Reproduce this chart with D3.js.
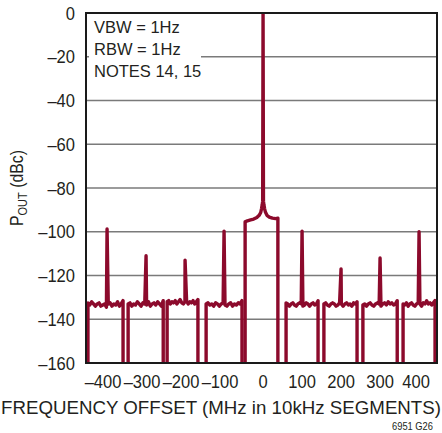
<!DOCTYPE html>
<html>
<head>
<meta charset="utf-8">
<script src="https://cdn.jsdelivr.net/npm/d3@7"></script>
<style>
  html, body { margin: 0; padding: 0; background: #fff; }
  svg { display: block; }
  text { font-family: "Liberation Sans", Arial, sans-serif; fill: #231f20; }
</style>
</head>
<body>
<svg id="chart" width="442" height="433"></svg>
<script>
// ---------------- data ----------------
const segmentCenters = [-400, -300, -200, -100, 0, 100, 200, 300, 400];
const segmentStarts  = [-449, -346, -246, -146, -46, 59, 156, 256, 359];
const segmentEnds    = [-359, -256, -167, -54, 38, 141, 241, 344, 441];
const spikeLevels    = [-98.7, -111, -113, -99.7, 0, -99.7, -117, -112, -100];

// noise floor readings across each side segment (dBc)
const noiseReadings = [
  [-132.5, -133.5, -132, -133, -134, -133, -132.5, -134, -133.5, -133, -134.5, -133, -132.5, -134, -133, -133.5, -132, -134, -133, -131.5],
  [-133, -132.5, -134, -133, -133.5, -132, -133, -134, -132.5, -133, -133.5, -132, -134, -133, -132.5, -133.5, -132, -133, -134, -131.5],
  [-132, -131.5, -133, -132, -132.5, -131.5, -133, -132, -131, -132.5, -133, -132, -131.5, -133, -132, -132.5, -131.5, -133, -132, -131],
  [-133, -132.5, -133.5, -133, -134, -132.5, -133, -134, -133, -132.5, -133.5, -134, -133, -132.5, -134, -133, -133.5, -132.5, -133, -131.5],
  null,
  [-132.5, -133, -134, -133, -132.5, -133.5, -134, -133, -132.5, -133, -134, -133.5, -132.5, -133, -134, -133, -132.5, -133.5, -133, -131.5],
  [-133, -132.5, -133.5, -134, -133, -132.5, -133, -134, -133.5, -132.5, -133, -134, -133, -132.5, -133.5, -133, -134, -132.5, -133, -132],
  [-133.5, -133, -134, -133, -132.5, -133.5, -134, -133, -132.5, -133, -134, -133, -132.5, -133.5, -132, -133, -132.5, -133.5, -133, -131.5],
  [-133, -133.5, -132.5, -134, -133, -132.5, -133.5, -134, -133, -132.5, -133, -134, -132.5, -133, -131.5, -133, -132.5, -133.5, -132.5, -131.5]
];

// carrier segment: offsets (MHz) and levels (dBc)
const carrierOffsets = [-45, -40, -32, -24, -16, -10, -6, -4, -2, -1, 0, 1, 2, 4, 6, 10, 16, 24, 32, 37];
const carrierLevels  = [-95.5, -95, -94.6, -94.2, -93.5, -92.5, -91.2, -89.5, -87.5, -86, 0, -86, -87.5, -89.5, -91, -92.5, -93.3, -93.8, -94, -93.8];

const yTicks = [0, -20, -40, -60, -80, -100, -120, -140, -160];
const xTicks = [-400, -300, -200, -100, 0, 100, 200, 300, 400];
const legendLines = ["VBW = 1Hz", "RBW = 1Hz", "NOTES 14, 15"];
const xTitle = "FREQUENCY OFFSET (MHz in 10kHz SEGMENTS)";
const footnote = "6951 G26";

// ---------------- layout ----------------
const svg = d3.select("#chart");
const L = 86, R = 437, T = 13, B = 363;
const x = d3.scaleLinear().domain([-454, 446]).range([L, R]);
const y = d3.scaleLinear().domain([-160, 0]).range([B, T]);
const traceColor = "#8c0a2c";
const fmt = v => v < 0 ? "\u2013" + Math.abs(v) : String(v);
const narrow = (sel, fx, fy, sx) => sel.attr("transform", (d, i) => `translate(${fx(d, i)},${fy(d, i)}) scale(${sx},1)`);

// gridlines
svg.append("g").selectAll("line").data(yTicks.filter(v => v !== 0 && v !== -160)).join("line")
  .attr("x1", L).attr("x2", R)
  .attr("y1", d => y(d)).attr("y2", d => y(d))
  .attr("stroke", "#7a7a7a").attr("stroke-width", 1.5);

// legend background
svg.append("rect").attr("x", 89).attr("y", 15).attr("width", 112).attr("height", 72).attr("fill", "#fff");
svg.append("g").selectAll("text").data(legendLines).join("text")
  .call(narrow, () => 94, (d, i) => 33 + i * 22, 1.0)
  .attr("font-size", 16.5)
  .text(d => d);

// traces
svg.append("clipPath").attr("id", "clip").append("rect")
  .attr("x", L).attr("y", T).attr("width", R - L).attr("height", B - T);
const line = d3.line().x(d => x(d[0])).y(d => y(d[1]));
const segments = segmentCenters.map((c, i) => {
  const s = segmentStarts[i], e = segmentEnds[i];
  let pts = [];
  if (noiseReadings[i]) {
    const n = noiseReadings[i];
    n.forEach((v, k) => pts.push([s + (e - s) * k / (n.length - 1), v]));
    pts.push([c, spikeLevels[i]]);
    pts.sort((a, b) => a[0] - b[0]);
  } else {
    carrierOffsets.forEach((o, k) => pts.push([c + o, carrierLevels[k]]));
    pts[pts.length - 1][0] = e;
    pts[0][0] = s;
  }
  return [[s, -161]].concat(pts, [[e, -161]]);
});
svg.append("g").attr("clip-path", "url(#clip)").selectAll("path").data(segments).join("path")
  .attr("d", line)
  .attr("fill", "none")
  .attr("stroke", traceColor)
  .attr("stroke-width", 3.4)
  .attr("stroke-linejoin", "round");

// frame
svg.append("rect").attr("x", L).attr("y", T).attr("width", R - L).attr("height", B - T)
  .attr("fill", "none").attr("stroke", "#1a1a1a").attr("stroke-width", 2);

// y tick labels
svg.append("g").selectAll("text").data(yTicks).join("text")
  .call(narrow, () => 75, d => y(d) + 6.5, 0.92)
  .attr("text-anchor", "end").attr("font-size", 18)
  .text(fmt);

// x tick labels
svg.append("g").selectAll("text").data(xTicks).join("text")
  .call(narrow, d => x(d) - (d === 400 ? 3 : d < 0 ? 4 : 0), () => 388, 0.92)
  .attr("text-anchor", "middle").attr("font-size", 18)
  .text(fmt);

// x title
svg.append("text").call(narrow, () => 221, () => 414, 0.82)
  .attr("text-anchor", "middle").attr("font-size", 18)
  .attr("textLength", 440 / 0.82).attr("lengthAdjust", "spacingAndGlyphs")
  .text(xTitle);

// y title
const yt = svg.append("text").attr("transform", `translate(23,${(T + B) / 2}) rotate(-90) scale(0.88,1)`)
  .attr("text-anchor", "middle").attr("font-size", 18);
yt.append("tspan").text("P");
yt.append("tspan").attr("font-size", 12.5).attr("dy", 4).text("OUT");
yt.append("tspan").attr("dy", -4).text(" (dBc)");

// footnote
svg.append("text").call(narrow, () => 433, () => 430, 0.85).attr("text-anchor", "end")
  .attr("font-size", 11).text(footnote);
</script>
</body>
</html>
